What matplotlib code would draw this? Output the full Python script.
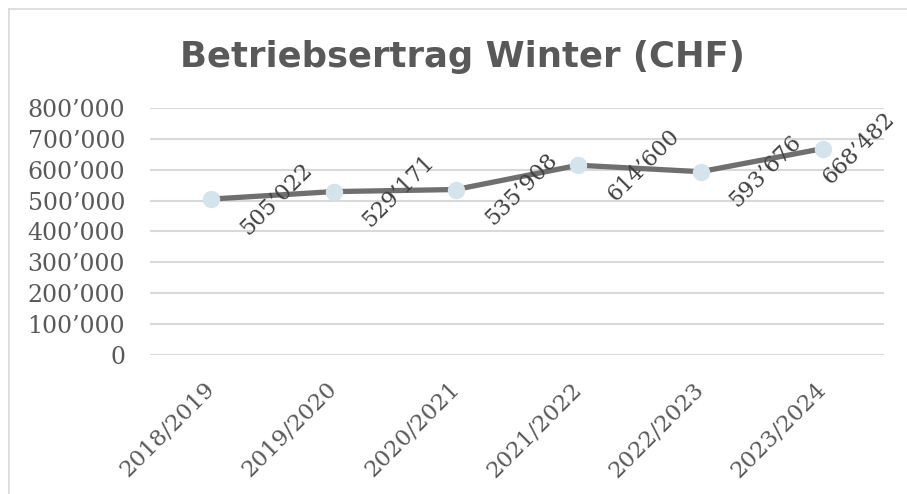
import matplotlib.pyplot as plt
from matplotlib.lines import Line2D
from matplotlib.ticker import FuncFormatter

seasons = ['2018/2019', '2019/2020', '2020/2021', '2021/2022', '2022/2023', '2023/2024']
ertrag = [505022, 529171, 535908, 614600, 593676, 668482]
y_ticks = [0, 100000, 200000, 300000, 400000, 500000, 600000, 700000, 800000]


def chf(v):
    # Schweizer Tausendertrennzeichen
    return f"{int(v):,}".replace(",", "\u2019")


fig = plt.figure(figsize=(9.07, 4.94), dpi=100)
ax = fig.add_axes([0.1654, 0.2814, 0.8093, 0.5])

x = list(range(len(seasons)))
ax.plot(x, ertrag, color='#6f6f6f', lw=3.8, zorder=3,
        marker='o', markersize=11.5, markerfacecolor='#d5e3ec',
        markeredgecolor='#d5e3ec', solid_capstyle='round')

for i, v in enumerate(ertrag):
    dx = 47 if i < len(ertrag) - 1 else 26
    ax.annotate(chf(v), (i, v), xytext=(dx, 0), textcoords='offset points',
                rotation=45, ha='center', va='center', fontsize=16,
                family='DejaVu Serif', color='#404040', zorder=4)

ax.set_xlim(-0.5, len(seasons) - 0.5)
ax.set_ylim(0, 800000)
ax.set_yticks(y_ticks)
ax.yaxis.set_major_formatter(FuncFormatter(lambda v, p: chf(v)))
ax.set_xticks(x)
ax.set_xticklabels(seasons, rotation=45, ha='right', rotation_mode='anchor',
                   va='center')
for lab in ax.get_xticklabels():
    lab.set_fontsize(16.5)
for lab in ax.get_yticklabels():
    lab.set_fontsize(17)
for lab in ax.get_xticklabels() + ax.get_yticklabels():
    lab.set_family('DejaVu Serif')
    lab.set_color('#595959')

ax.tick_params(axis='both', length=0)
ax.tick_params(axis='y', pad=18)
ax.tick_params(axis='x', pad=22)
ax.grid(axis='y', color='#d9d9d9', lw=1.5)
ax.set_axisbelow(True)
for s in ax.spines.values():
    s.set_visible(False)

fig.text(0.51, 1 - 67 / 494, 'Betriebsertrag Winter (CHF)', ha='center',
         va='baseline', fontsize=25.5, fontweight='bold', color='#595959',
         family='DejaVu Sans')

# Rahmen oben und links
fig.add_artist(Line2D([8.5 / 907, 8.5 / 907], [0, 1 - 9 / 494],
                      color='#d9d9d9', lw=1.2))
fig.add_artist(Line2D([8.5 / 907, 1], [1 - 9 / 494, 1 - 9 / 494],
                      color='#d9d9d9', lw=1.2))

fig.savefig('out.png', dpi=100)
